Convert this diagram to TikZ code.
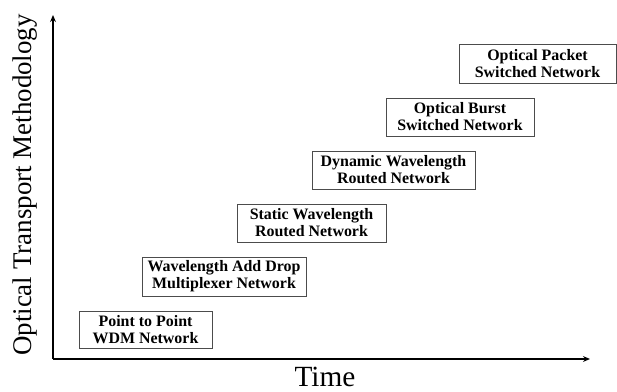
\documentclass[tikz,border=0pt]{standalone}
\usepackage{fontspec}
\setmainfont{Liberation Serif}
\usepackage{tikz}
\usetikzlibrary{arrows.meta,positioning}

\begin{document}
\begin{tikzpicture}[
    x=0.03cm, y=-0.03cm,
    netbox/.style={draw=black!70, line width=0.7pt, align=center, inner sep=0pt,
      font=\bfseries\fontsize{13.6}{14.5}\selectfont},
    axis/.style={line width=1.5pt, -{Stealth[length=6pt,width=5pt]}},
    axislabel/.style={font=\fontsize{23}{24}\selectfont},
    >=Stealth
  ]
  \useasboundingbox (0,0) rectangle (617,391);

  % Axes
  \coordinate (o) at (53,359);
  \coordinate (ytip) at (53,15);
  \coordinate (xtip) at (590,359);
  \draw[axis] (o) -- (ytip);
  \draw[axis] (o) -- (xtip);
  \node[axislabel, rotate=90] (ylab) at (25,185) {Optical Transport Methodology};
  \node[font=\fontsize{25}{27}\selectfont, inner sep=0pt, anchor=base] (xlab) at (325,386) {Time};

  % Networks
  \node[netbox, minimum width=3.99cm, minimum height=1.11cm] (p2p) at (145.5,329.5) {Point to Point\\WDM Network};
  \node[netbox, minimum width=4.92cm, minimum height=1.17cm] (oadm) at (224,276.5) {Wavelength Add Drop\\Multiplexer Network};
  \node[netbox, minimum width=4.47cm, minimum height=1.14cm] (swr) at (311.5,223) {Static Wavelength\\Routed Network};
  \node[netbox, minimum width=4.89cm, minimum height=1.14cm] (dwr) at (393.5,170) {Dynamic Wavelength\\Routed Network};
  \node[netbox, minimum width=4.44cm, minimum height=1.14cm] (obs) at (460,117) {Optical Burst\\Switched Network};
  \node[netbox, minimum width=4.71cm, minimum height=1.17cm] (ops) at (537.5,63.5) {Optical Packet\\Switched Network};
\end{tikzpicture}
\end{document}
